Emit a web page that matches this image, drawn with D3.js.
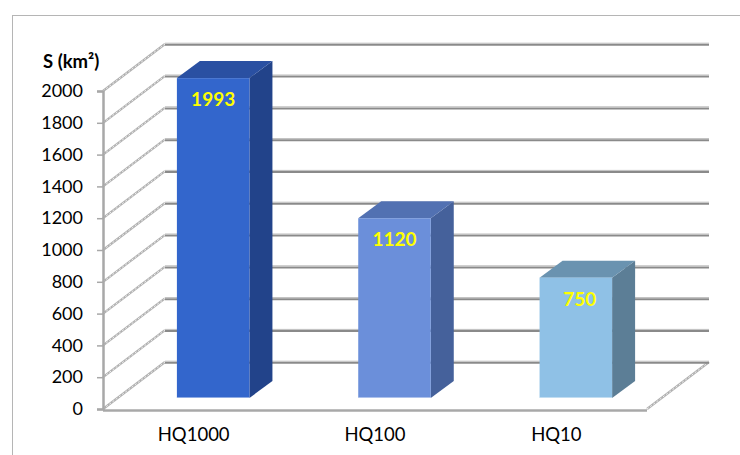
<!DOCTYPE html>
<meta charset="utf-8">
<style>
body { margin: 0; background: #fff; }
svg { display: block; }
text { font-family: Lato, "Open Sans", sans-serif; }
.tick text { font-size: 18px; fill: #000; }
</style>
<svg width="740" height="455"></svg>
<script src="https://d3js.org/d3.v7.min.js"></script>
<script>

// values
var categories = ["HQ1000", "HQ100", "HQ10"];
var values = [1993, 1120, 750];
var yTicks = [0, 200, 400, 600, 800, 1000, 1200, 1400, 1600, 1800, 2000];
var yTitle = "S (km²)";

// colours per bar: front, side, top
var fronts = ["#3366cc", "#6b8fda", "#8fc1e6"];
var sides  = ["#22438a", "#45619b", "#5c7e96"];
var tops   = ["#2a50a2", "#5271b2", "#6a93b0"];

var svg = d3.select("svg");

// the outer frame runs off the right and bottom of the picture
svg.append("rect")
    .attr("x", 12.5).attr("y", 15.5)
    .attr("width", 800).attr("height", 500)
    .attr("fill", "none")
    .attr("stroke", "#b5b5b5");

var wall = {dx: 62, dy: -47},   // depth of the floor / side wall
    plane = {dx: 19.5, dy: -11}, // where the bars stand
    depth = {dx: 23, dy: -17};   // depth of each bar

var x = d3.scaleBand().domain(categories).range([103, 647])
    .paddingInner(0.6).paddingOuter(0.3);
var y = d3.scaleLinear().domain([0, 2000]).range([409, 91]);
// bars stand further back and look a touch taller
var yBar = d3.scaleLinear().domain([0, 2000]).range([398, 77]);

var left = 103, right = 647;

function sketchy(g, pts) {
  g.append("path").attr("d", d3.line()(pts))
      .attr("stroke", "#b0b0b0").attr("stroke-width", 2.2).attr("fill", "none");
  g.append("path").attr("d", d3.line()(pts))
      .attr("stroke", "#fff").attr("stroke-width", 0.8)
      .attr("stroke-dasharray", "2,2").attr("fill", "none");
}

// side wall diagonals
var diag = svg.append("g");
yTicks.forEach(function(t) {
  sketchy(diag, [[left, y(t)], [left + wall.dx, y(t) + wall.dy]]);
});

// floor right edge
sketchy(diag, [[right, y(0)], [right + wall.dx, y(0) + wall.dy]]);

// back wall gridlines
var grid = svg.append("g");
yTicks.forEach(function(t) {
  var yy = y(t) + wall.dy;
  grid.append("line")
      .attr("x1", left + wall.dx).attr("x2", right + wall.dx)
      .attr("y1", yy + 0.8).attr("y2", yy + 0.8)
      .attr("stroke", "#8a8a8a").attr("stroke-width", 2);
  grid.append("line")
      .attr("x1", left + wall.dx).attr("x2", right + wall.dx)
      .attr("y1", yy - 0.8).attr("y2", yy - 0.8)
      .attr("stroke", "#bdbdbd").attr("stroke-width", 1);
});

// floor front edge
svg.append("line")
    .attr("x1", left).attr("x2", right)
    .attr("y1", y(0) + 1.5).attr("y2", y(0) + 1.5)
    .attr("stroke", "#a8a8a8").attr("stroke-width", 2.5);

// y axis
var yAxis = svg.append("g")
    .attr("transform", "translate(" + left + ",0)")
    .call(d3.axisLeft(y).tickValues(yTicks).tickSize(6).tickPadding(14).tickFormat(d3.format("d")));
yAxis.select(".domain").attr("stroke", "#a8a8a8").attr("stroke-width", 2.5);
yAxis.selectAll(".tick line").attr("stroke", "#a8a8a8").attr("stroke-width", 1.5);

svg.append("text")
    .attr("x", 43).attr("y", 68)
    .style("font-size", "18.5px").style("font-weight", "bold")
    .text(yTitle);

// bars
var bars = svg.append("g").selectAll("g")
    .data(values)
  .enter().append("g");

bars.each(function(v, i) {
  var g = d3.select(this),
      x0 = x(categories[i]) + plane.dx,
      x1 = x0 + x.bandwidth(),
      y0 = yBar(0),
      y1 = yBar(v);

  g.append("polygon")
      .attr("points", [[x1, y1], [x1 + depth.dx, y1 + depth.dy], [x1 + depth.dx, y0 + depth.dy], [x1, y0]].join(" "))
      .attr("fill", sides[i]);
  g.append("polygon")
      .attr("points", [[x0, y1], [x0 + depth.dx, y1 + depth.dy], [x1 + depth.dx, y1 + depth.dy], [x1, y1]].join(" "))
      .attr("fill", tops[i]);
  g.append("rect")
      .attr("x", x0).attr("y", y1)
      .attr("width", x1 - x0).attr("height", y0 - y1)
      .attr("fill", fronts[i]);
  g.append("line")
      .attr("x1", x0).attr("x2", x1).attr("y1", y0 - 0.5).attr("y2", y0 - 0.5)
      .attr("stroke", "#fff").attr("stroke-opacity", 0.45);

  g.append("text")
      .attr("x", (x0 + x1) / 2 + (i === 2 ? 4 : 0))
      .attr("y", y1 + 28)
      .attr("text-anchor", "middle")
      .style("font-size", "19px").style("font-weight", "bold")
      .attr("fill", "#ffff00")
      .text(v);
});

// category labels
svg.append("g").selectAll("text")
    .data(categories)
  .enter().append("text")
    .attr("x", function(d) { return x(d) + x.bandwidth() / 2; })
    .attr("y", 441)
    .attr("text-anchor", "middle")
    .style("font-size", "18.5px")
    .text(function(d) { return d; });

</script>
